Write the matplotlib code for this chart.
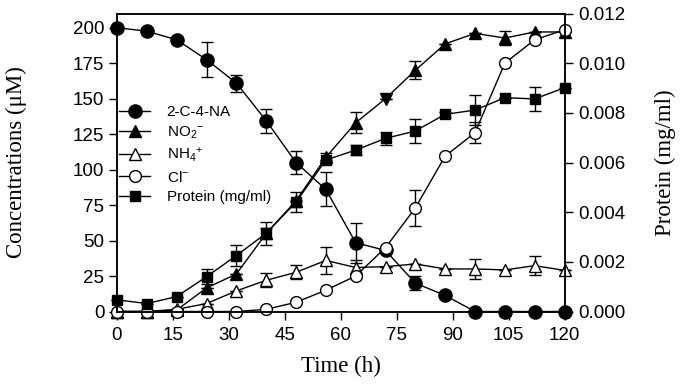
import numpy as np
import matplotlib
matplotlib.use('Agg')
import matplotlib.pyplot as plt

plt.rcParams['font.family'] = ['Liberation Sans', 'DejaVu Sans']
plt.rcParams['mathtext.fontset'] = 'custom'
plt.rcParams['mathtext.rm'] = 'Liberation Sans'
plt.rcParams['mathtext.it'] = 'Liberation Sans'

# time (h)
t = [0, 8, 16, 24, 32, 40, 48, 56, 64, 72, 80, 88, 96, 104, 112, 120]

# 2-C-4-NA (uM)
cna = [200, 197.5, 191.5, 177.5, 161, 134.5, 105, 86, 48.5, 43, 20, 11.3, 0, 0, 0, 0]
cna_err = [0, 0, 0, 12.3, 6, 8.4, 8.4, 12, 14, 0, 4.7, 0, 0, 0, 0, 0]

# NO2- (uM)
no2 = [0, 0, 1, 16.6, 26.4, 55, 78, 108.6, 133, 150, 170, 188.6, 196, 192.7, 197, 197]
no2_err = [0, 0, 0, 0, 0, 4, 0, 3, 7.5, 0, 6.5, 0, 0, 5, 0, 0]
no2_mk = ['^'] * 9 + ['v'] + ['^'] * 6

# NH4+ (uM)
nh4 = [0, 0, 1.5, 5.6, 14.5, 22, 27.6, 36, 31, 31.6, 33.5, 30, 30, 29.3, 32.3, 29]
nh4_err = [0, 0, 0, 0, 0, 5, 5, 9.4, 5.6, 0, 0, 0, 7, 0, 6.5, 0]

# Cl- (uM)
cl = [0, 0, 0, 0, 0, 1.5, 6.5, 15, 25, 45, 73, 109.5, 126, 175, 191.5, 198.5]
cl_err = [0, 0, 0, 0, 0, 0, 0, 0, 0, 0, 12.4, 0, 7.6, 0, 0, 0]

# protein (mg/ml)
prot = [0.00047, 0.00032, 0.0006, 0.0014, 0.00225, 0.00315, 0.0044, 0.0061, 0.0065,
        0.00697, 0.00727, 0.00794, 0.00811, 0.00861, 0.00856, 0.00901]
prot_err = [0, 0, 0, 0.0003, 0.00043, 0.00047, 0.0004, 0, 0.0002,
            0.00027, 0.00047, 0.0001, 0.00059, 0, 0.00049, 0]

fig = plt.figure(figsize=(6.84, 3.85), dpi=100)
ax = fig.add_axes([117 / 684, 1 - 311.5 / 385, 447.5 / 684, 298 / 385])
ax2 = ax.twinx()

eb = dict(fmt='none', ecolor='k', elinewidth=1, capsize=4.5, capthick=1, clip_on=False)
lw = 1.0

ax.errorbar(t, cna, yerr=cna_err, **eb)
ax.errorbar(t, no2, yerr=no2_err, **eb)
ax.errorbar(t, nh4, yerr=nh4_err, **eb)
ax.errorbar(t, cl, yerr=cl_err, **eb)
ax2.errorbar(t, prot, yerr=prot_err, **eb)

h1, = ax.plot(t, cna, '-o', color='k', lw=lw, ms=9.5, clip_on=False, label='2-C-4-NA')
ax.plot(t, no2, '-', color='k', lw=lw, clip_on=False)
for m in set(no2_mk):
    idx = [i for i, mm in enumerate(no2_mk) if mm == m]
    ax.plot([t[i] for i in idx], [no2[i] for i in idx], m, color='k', ms=9, clip_on=False)
h2, = ax.plot([], [], '-^', color='k', lw=lw, ms=9, label='NO$_2$$^{-}$')
h3, = ax.plot(t, nh4, '-^', color='k', mfc='white', lw=lw, ms=9, clip_on=False, label='NH$_4$$^{+}$')
h4, = ax.plot(t, cl, '-o', color='k', mfc='white', lw=lw, ms=8.5, clip_on=False, label='Cl$^{-}$')
h5, = ax2.plot(t, prot, '-s', color='k', lw=lw, ms=6.7, clip_on=False, label='Protein (mg/ml)')

ax.set_xlim(0, 120)
ax.set_ylim(0, 210)
ax2.set_ylim(0, 0.012)
ax.set_xticks(range(0, 121, 15))
ax.set_yticks(range(0, 201, 25))
ax2.set_yticks(np.arange(0, 0.0121, 0.002))
ax2.set_yticklabels(['%.3f' % v for v in np.arange(0, 0.0121, 0.002)])

for a in (ax, ax2):
    a.tick_params(direction='out', length=5.5, width=1, labelsize=13.5)
    for s in a.spines.values():
        s.set_linewidth(1.1)
ax.tick_params(axis='x', pad=6)
ax.tick_params(axis='y', pad=3.5)
ax2.tick_params(axis='y', pad=4.5)

serif = ['Liberation Serif', 'DejaVu Serif']
ax.set_xlabel('Time (h)', family=serif, fontsize=16.5)
ax.set_ylabel('Concentrations (\u03bcM)', family=serif, fontsize=16.5)
ax2.set_ylabel('Protein (mg/ml)', family=serif, fontsize=16.5)
ax.xaxis.set_label_coords(0.5, -0.148)
ax.yaxis.set_label_coords(-0.201, 0.5)
ax2.yaxis.set_label_coords(1.202, 0.5)

ax2.legend(handles=[h1, h2, h3, h4, h5], loc='upper left', bbox_to_anchor=(0.005, 0.693),
           frameon=False, fontsize=11, handlelength=2.0, handletextpad=1.1,
           labelspacing=0.35, borderpad=0, borderaxespad=0)

fig.savefig('out.png', dpi=100)
